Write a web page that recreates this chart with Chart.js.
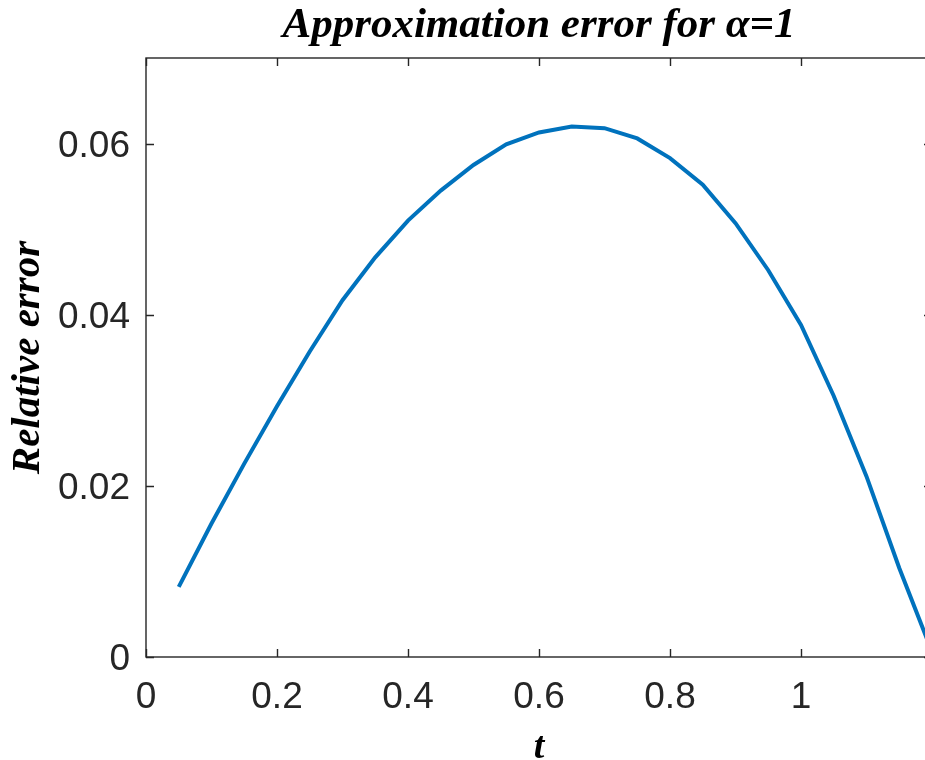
<!DOCTYPE html>
<html><head><meta charset="utf-8">
<script src="https://cdn.jsdelivr.net/npm/chart.js@4/dist/chart.umd.min.js"></script>
<style>
html,body{margin:0;padding:0;overflow:hidden;background:#fff;width:925px;height:760px}
#wrap{position:absolute;left:0;top:0;width:940px;height:760px}
</style>
</head><body><div id="wrap"><canvas id="c" width="940" height="760" style="width:940px;height:760px"></canvas></div>
<script>
const tValues = [0.05,0.10,0.15,0.20,0.25,0.30,0.35,0.40,0.45,0.50,0.55,0.60,0.65,0.70,0.75,0.80,0.85,0.90,0.95,1.00,1.05,1.10,1.15,1.20];
const relError = [0.0082,0.0156,0.0226,0.0293,0.0357,0.0417,0.0467,0.0510,0.0545,0.0575,0.0599,0.0613,0.0620,0.0618,0.0606,0.0583,0.0552,0.0507,0.0452,0.0388,0.0305,0.0211,0.0104,0.0006];
const xTicks = [0,0.2,0.4,0.6,0.8,1.0,1.2];
const xTickLabels = ['0','0.2','0.4','0.6','0.8','1',''];
const yTicks = [0,0.02,0.04,0.06];
const yTickLabels = ['0','0.02','0.04','0.06'];
const titleText = 'Approximation error for \u03B1=1';
const xTitle = 't';
const yTitle = 'Relative error';

const AXIS_COLOR = '#262626';
const tickFont = {family:"'Liberation Sans',Arial,sans-serif", size:37};
const serifBI = (s)=>({family:"'Liberation Serif','Times New Roman',serif", size:s, style:'italic', weight:'bold'});

const boxPlugin = {
  id:'matlabBox',
  beforeDatasetsDraw(chart){
    const {ctx, chartArea:a, scales:{x,y}} = chart;
    ctx.save();
    ctx.strokeStyle = AXIS_COLOR;
    ctx.lineWidth = 1.4;
    ctx.strokeRect(a.left, a.top, a.right-a.left, a.bottom-a.top);
    ctx.beginPath();
    const L = 8;
    xTicks.forEach(v=>{
      const px = Math.round(x.getPixelForValue(v))+0.5;
      ctx.moveTo(px, a.bottom); ctx.lineTo(px, a.bottom-L);
      ctx.moveTo(px, a.top); ctx.lineTo(px, a.top+L);
    });
    yTicks.forEach(v=>{
      const py = Math.round(y.getPixelForValue(v))+0.5;
      ctx.moveTo(a.left, py); ctx.lineTo(a.left+L, py);
      ctx.moveTo(a.right, py); ctx.lineTo(a.right-L, py);
    });
    ctx.stroke();
    ctx.restore();
  }
};

new Chart(document.getElementById('c'), {
  type:'line',
  data:{datasets:[{
    data: tValues.map((t,i)=>({x:t, y:relError[i]})),
    borderColor:'#0072BD', borderWidth:4, pointRadius:0, tension:0, fill:false
  }]},
  options:{
    responsive:false, maintainAspectRatio:false, animation:false,
    layout:{padding:{left:0,right:8,top:0,bottom:0}},
    plugins:{
      legend:{display:false}, tooltip:{enabled:false},
      title:{display:true, text:titleText, fullSize:false, color:'#000',
        font:serifBI(43), padding:{top:0,bottom:6.4}}
    },
    scales:{
      x:{type:'linear', min:0, max:1.2,
        grid:{display:false, drawTicks:false}, border:{display:false},
        afterBuildTicks(s){ s.ticks = xTicks.map(v=>({value:v})); },
        afterFit(s){ s.height = 103; s.paddingLeft = 0; s.paddingRight = 0; },
        ticks:{padding:19, color:AXIS_COLOR, font:tickFont, maxRotation:0, autoSkip:false,
          callback:(v,i)=>xTickLabels[i]},
        title:{display:true, text:xTitle, color:'#000', font:{...serifBI(38), lineHeight:0.7}, padding:{top:0,bottom:-1}}
      },
      y:{type:'linear', min:0, max:0.07,
        grid:{display:false, drawTicks:false}, border:{display:false},
        afterBuildTicks(s){ s.ticks = yTicks.map(v=>({value:v})); },
        afterFit(s){ s.width = 146; },
        ticks:{padding:16, labelOffset:3, color:AXIS_COLOR, font:tickFont, autoSkip:false,
          callback:(v,i)=>yTickLabels[i]},
        title:{display:true, text:yTitle, color:'#000', font:serifBI(41), padding:{top:4,bottom:0}}
      }
    }
  },
  plugins:[boxPlugin]
});
</script>
</body></html>
